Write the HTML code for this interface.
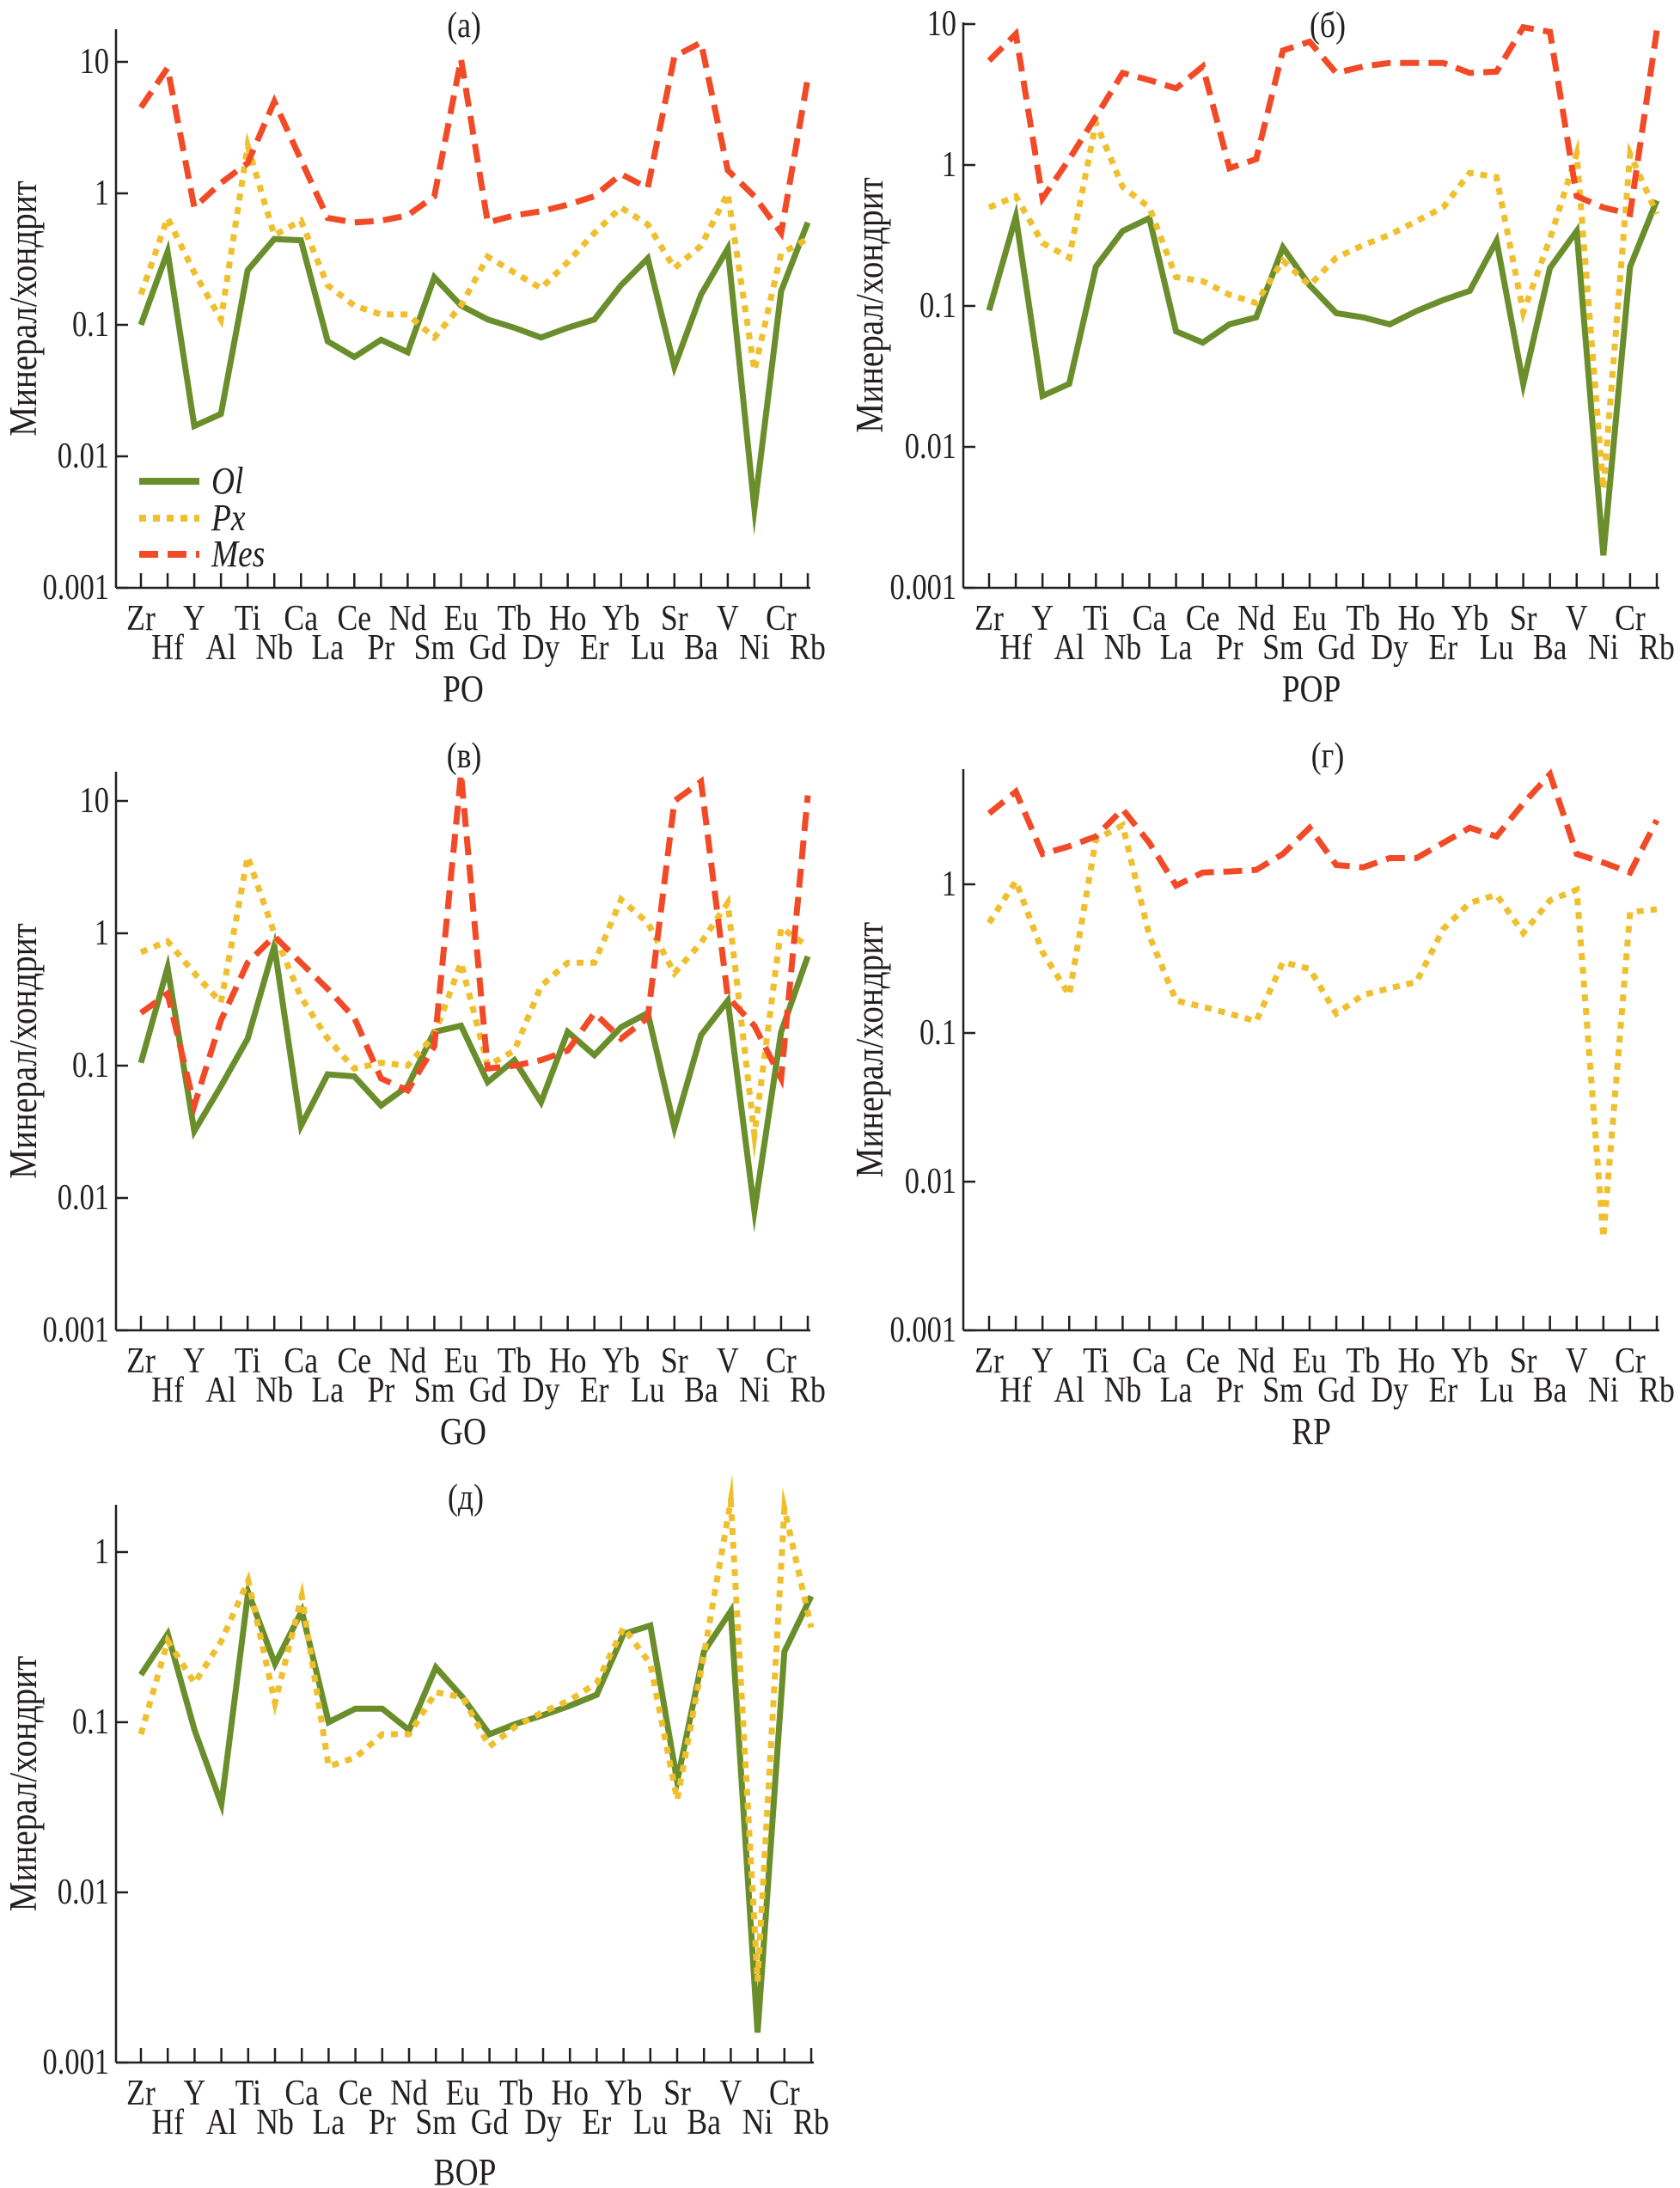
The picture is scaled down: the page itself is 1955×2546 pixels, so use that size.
<!DOCTYPE html>
<html><head><meta charset="utf-8">
<style>
html,body{margin:0;padding:0;background:#fff;}
svg{display:block;}
text{font-family:"Liberation Serif","DejaVu Serif",serif;fill:#231f20;}
</style></head>
<body>
<svg id="fig" width="1955" height="2546" viewBox="0 0 1955 2546" xmlns="http://www.w3.org/2000/svg"></svg>
<script>
const categories=["Zr","Hf","Y","Al","Ti","Nb","Ca","La","Ce","Pr","Nd","Sm","Eu","Gd","Tb","Dy","Ho","Er","Yb","Lu","Sr","Ba","V","Ni","Cr","Rb"];
const yTickValues=[0.001,0.01,0.1,1,10];
const yTickLabels=["0.001","0.01","0.1","1","10"];
// panel a (PO)
const aOl=[0.1,0.36,0.017,0.021,0.26,0.45,0.44,0.075,0.057,0.077,0.062,0.23,0.14,0.11,0.095,0.08,0.095,0.11,0.2,0.32,0.048,0.17,0.38,0.004,0.18,0.6];
const aPx=[0.17,0.65,0.25,0.11,2.3,0.48,0.62,0.2,0.14,0.12,0.12,0.08,0.14,0.33,0.25,0.19,0.3,0.5,0.78,0.58,0.27,0.4,1.0,0.045,0.35,0.45];
const aMes=[4.5,9,0.78,1.2,1.7,5,1.8,0.65,0.6,0.62,0.68,0.95,10.5,0.6,0.68,0.73,0.82,0.95,1.4,1.1,11,14,1.5,0.95,0.5,7.5];
// panel b (POP)
const bOl=[0.093,0.43,0.023,0.028,0.19,0.34,0.42,0.066,0.055,0.074,0.083,0.26,0.14,0.089,0.083,0.074,0.092,0.11,0.128,0.29,0.028,0.186,0.34,0.0017,0.19,0.56];
const bPx=[0.5,0.6,0.28,0.22,2.0,0.7,0.5,0.16,0.15,0.12,0.105,0.21,0.14,0.22,0.27,0.32,0.4,0.5,0.88,0.82,0.09,0.3,1.2,0.005,1.2,0.45];
const bMes=[5.5,8.5,0.58,1.1,2.2,4.5,4,3.5,5,0.95,1.1,6.5,7.5,4.5,5,5.3,5.3,5.3,4.5,4.6,9.5,8.8,0.6,0.5,0.45,9];
// panel c (GO)
const cOl=[0.105,0.55,0.032,0.07,0.16,0.8,0.035,0.086,0.083,0.05,0.07,0.18,0.2,0.075,0.11,0.053,0.18,0.12,0.195,0.25,0.034,0.17,0.31,0.008,0.18,0.67];
const cPx=[0.72,0.87,0.5,0.3,3.8,1.0,0.33,0.16,0.095,0.105,0.1,0.17,0.6,0.1,0.13,0.4,0.6,0.6,1.8,1.2,0.5,0.85,1.7,0.03,1.1,0.8];
const cMes=[0.25,0.35,0.05,0.22,0.6,0.95,0.6,0.38,0.23,0.08,0.065,0.14,16,0.095,0.1,0.11,0.13,0.25,0.16,0.23,10,14,0.33,0.2,0.08,11];
// panel d (RP)
const dPx=[0.55,1.05,0.35,0.18,2.0,2.5,0.45,0.165,0.15,0.135,0.12,0.3,0.27,0.135,0.18,0.2,0.22,0.5,0.75,0.85,0.47,0.78,0.92,0.0042,0.65,0.68];
const dMes=[3.0,4.2,1.6,1.8,2.1,3.2,1.9,0.98,1.2,1.22,1.25,1.6,2.4,1.35,1.3,1.5,1.5,1.9,2.4,2.1,3.5,5.5,1.6,1.4,1.2,2.7];
// panel e (BOP)
const eOl=[0.19,0.33,0.09,0.033,0.58,0.22,0.45,0.1,0.12,0.12,0.09,0.21,0.14,0.085,0.098,0.11,0.125,0.145,0.33,0.37,0.045,0.26,0.45,0.0015,0.26,0.55];
const ePx=[0.085,0.3,0.17,0.3,0.68,0.13,0.55,0.055,0.062,0.085,0.085,0.15,0.14,0.072,0.095,0.115,0.135,0.17,0.36,0.22,0.035,0.25,2.0,0.003,1.8,0.36];

const NS="http://www.w3.org/2000/svg";
const svg=document.getElementById('fig');
function mk(tag,attrs,parent){const e=document.createElementNS(NS,tag);for(const k in attrs)e.setAttribute(k,attrs[k]);(parent||svg).appendChild(e);return e;}
// condensed text: placed at (x,y) with horizontal squeeze
function ctext(parent,x,y,str,size,anchor,sq,extra){
 const a={x:0,y:0,"text-anchor":anchor,"font-size":size,transform:`translate(${x} ${y}) scale(${sq} 1)`};
 if(extra)for(const k in extra)a[k]=extra[k];
 const t=mk('text',a,parent);t.textContent=str;return t;
}

const STY={
 ol:{stroke:"#6a8e2b",dash:null},
 px:{stroke:"#efbf2e",dash:"8 8"},
 mes:{stroke:"#f24a26",dash:"22 11"}
};

const panels=[
 {id:"a",title:"(a)",name:"PO",ax:135,bottom:684,decade:153,top:34,x0:164,x1:940,series:[["ol",aOl],["px",aPx],["mes",aMes]],titleX:540,titleY:30,yTitleX:28,maxDec:4,legend:true},
 {id:"b",title:"(б)",name:"POP",ax:1121,bottom:684,decade:164,top:26,x0:1151,x1:1928,series:[["ol",bOl],["px",bPx],["mes",bMes]],titleX:1545,titleY:30,yTitleX:1013,maxDec:4},
 {id:"c",title:"(в)",name:"GO",ax:135,bottom:1548,decade:154,top:898,x0:164,x1:940,series:[["ol",cOl],["px",cPx],["mes",cMes]],titleX:540,titleY:880,yTitleX:28,maxDec:4},
 {id:"d",title:"(г)",name:"RP",ax:1121,bottom:1548,decade:173,top:895,x0:1151,x1:1928,series:[["px",dPx],["mes",dMes]],titleX:1545,titleY:880,yTitleX:1013,maxDec:3},
 {id:"e",title:"(д)",name:"BOP",ax:135,bottom:2400,decade:198,top:1751,x0:164,x1:944,series:[["ol",eOl],["px",ePx]],titleX:542,titleY:1743,yTitleX:28,maxDec:3}
];

panels.forEach(p=>{
 const g=mk('g',{});
 
 
 const sx=i=>p.x0+i*(p.x1-p.x0)/(categories.length-1);
 const sy=v=>p.bottom-(Math.log10(v)+3)*p.decade;
 const axEnd=p.x1+3;
 const yax=mk('line',{x1:p.ax,y1:p.top,x2:p.ax,y2:p.bottom,stroke:"#231f20","stroke-width":2.5},g);
 
 const xax=mk('line',{x1:p.ax,y1:p.bottom,x2:axEnd,y2:p.bottom,stroke:"#231f20","stroke-width":2.5},g);
 
 yTickValues.forEach((v,k)=>{
  if(k>p.maxDec)return;
  const y=sy(v);
  mk('line',{x1:p.ax,y1:y,x2:p.ax+14,y2:y,stroke:"#231f20","stroke-width":2.5},g);
  const t=ctext(g,p.ax-8,y+13,yTickLabels[k],42,"end",0.82);
  
 });
 categories.forEach((c,i)=>{
  const x=sx(i);
  mk('line',{x1:x,y1:p.bottom,x2:x,y2:p.bottom-17,stroke:"#231f20","stroke-width":2.5},g);
  const t=ctext(g,x,p.bottom+(i%2===0?49:83),c,42,"middle",0.85);
  
 });
 const tt=ctext(g,p.titleX,p.titleY+13,p.title,42,"middle",0.85);
 
 const xt=ctext(g,(p.ax+axEnd)/2,p.bottom+(p.id==='e'?142:132),p.name,44,"middle",0.85);
 
 const ym=(p.top+p.bottom)/2;
 const yt=mk('text',{x:0,y:0,"text-anchor":"middle","font-size":46,transform:`translate(${p.yTitleX+14} ${ym}) rotate(-90) scale(0.85 1)`},g);
 yt.textContent="Минерал/хондрит";
 
 p.series.forEach(([key,vals])=>{
  const s=STY[key];
  const pts=vals.map((v,i)=>sx(i).toFixed(1)+","+sy(v).toFixed(1)).join(" ");
  const a={points:pts,fill:"none",stroke:s.stroke,"stroke-width":7,"stroke-linejoin":"miter","stroke-miterlimit":10};
  if(s.dash)a["stroke-dasharray"]=s.dash;
  const pl=mk('polyline',a,g);
  
  
 });
 if(p.legend){
  const entries=[["ol","Ol",560],["px","Px",603],["mes","Mes",645]];
  entries.forEach(([key,lab,y])=>{
   const s=STY[key];
   const a={x1:162,y1:y,x2:232,y2:y,stroke:s.stroke,"stroke-width":8};
   if(s.dash)a["stroke-dasharray"]=s.dash;
   const l=mk('line',a,g);
   
   const t=ctext(g,246,y+14,lab,44,"start",0.85,{"font-style":"italic"});
   
  });
 }
});
</script>
</body></html>
